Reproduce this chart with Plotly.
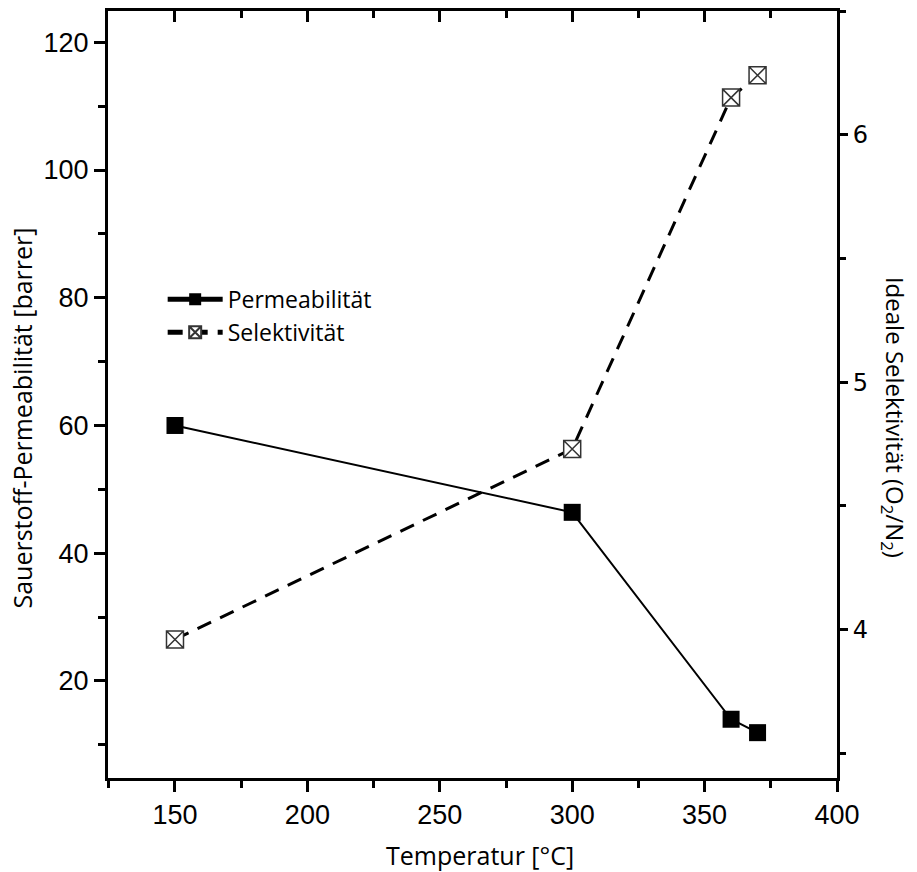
import plotly.graph_objects as go

temperature = [150, 300, 360, 370]
permeability = [60.0, 46.4, 14.0, 11.9]
selectivity = [3.96, 4.73, 6.15, 6.24]

x_ticks = [150, 200, 250, 300, 350, 400]
y1_ticks = [20, 40, 60, 80, 100, 120]
y2_ticks = [4, 5, 6]

fig = go.Figure()
fig.add_trace(go.Scatter(
    x=temperature, y=permeability, name="Permeabilität", mode="lines+markers",
    line=dict(color="black", width=2),
    marker=dict(symbol="square", size=17, color="black"),
    yaxis="y"))
fig.add_trace(go.Scatter(
    x=temperature, y=selectivity, name="Selektivität", mode="lines+markers",
    line=dict(color="black", width=3, dash="15px,10px"),
    marker=dict(symbol="square-x", size=17, color="white",
                line=dict(color="#333333", width=1.5)),
    yaxis="y2"))
# invisible trace that activates the top axis ticks
fig.add_trace(go.Scatter(x=[150], y=[60], xaxis="x2", yaxis="y", showlegend=False,
                         mode="markers", marker=dict(opacity=0), hoverinfo="skip"))

tickfont = dict(family="Liberation Sans", size=27, color="black")
fig.update_layout(
    width=917, height=872,
    margin=dict(l=108, r=80, t=11, b=94),
    plot_bgcolor="white", paper_bgcolor="white",
    showlegend=True,
    legend=dict(x=0.075, y=0.652, xanchor="left", yanchor="top",
                bgcolor="rgba(0,0,0,0)", font=dict(family="Open Sans", size=23, color="black"),
                tracegroupgap=0, itemwidth=55, itemsizing="constant"),
    xaxis=dict(range=[124.7, 400], tickvals=x_ticks, ticktext=[str(v) for v in x_ticks],
               showline=True, linewidth=3, linecolor="black", mirror=False,
               ticks="outside", ticklen=11, tickwidth=2.5, tickcolor="black",
               minor=dict(dtick=25, tick0=0, ticks="outside", ticklen=7, tickwidth=2.5, tickcolor="black"),
               showgrid=False, zeroline=False, tickfont=tickfont),
    xaxis2=dict(range=[124.7, 400], overlaying="x", side="top", tickvals=x_ticks,
                showticklabels=False, showline=True, linewidth=3, linecolor="black",
                ticks="inside", ticklen=11, tickwidth=2.5, tickcolor="black",
                minor=dict(dtick=25, tick0=0, ticks="inside", ticklen=7, tickwidth=2.5, tickcolor="black"),
                showgrid=False, zeroline=False),
    yaxis=dict(range=[4.8, 124.9], tickvals=y1_ticks, ticktext=[str(v) for v in y1_ticks],
               showline=True, linewidth=3, linecolor="black",
               ticks="outside", ticklen=11, tickwidth=2.5, tickcolor="black",
               minor=dict(dtick=10, tick0=0, ticks="outside", ticklen=7, tickwidth=2.5, tickcolor="black"),
               showgrid=False, zeroline=False, tickfont=tickfont),
    yaxis2=dict(range=[3.4, 6.5], overlaying="y", side="right", tickvals=y2_ticks,
                ticktext=[str(v) for v in y2_ticks],
                showline=True, linewidth=3, linecolor="black",
                ticks="outside", ticklen=8, tickwidth=2.5, tickcolor="black",
                minor=dict(dtick=0.5, tick0=0, ticks="outside", ticklen=6, tickwidth=2.5, tickcolor="black"),
                showgrid=False, zeroline=False,
                tickfont=dict(family="DejaVu Sans", size=24, color="black")),
    annotations=[
        dict(text="Temperatur [°C]", xref="paper", yref="paper", x=0.51, y=-0.1004,
             xanchor="center", yanchor="middle", showarrow=False,
             font=dict(family="Open Sans", size=25, color="black")),
        dict(text="Sauerstoff-Permeabilität [barrer]", xref="paper", yref="paper",
             x=-0.118, y=0.47, xanchor="center", yanchor="middle", textangle=-90,
             showarrow=False, font=dict(family="Open Sans", size=25, color="black")),
        dict(text="Ideale Selektivität (O<sub>2</sub>/N<sub>2</sub>)", xref="paper", yref="paper",
             x=1.079, y=0.47, xanchor="center", yanchor="middle", textangle=90,
             showarrow=False, font=dict(family="Open Sans", size=24, color="black")),
    ],
)
fig.write_html("out.html")
